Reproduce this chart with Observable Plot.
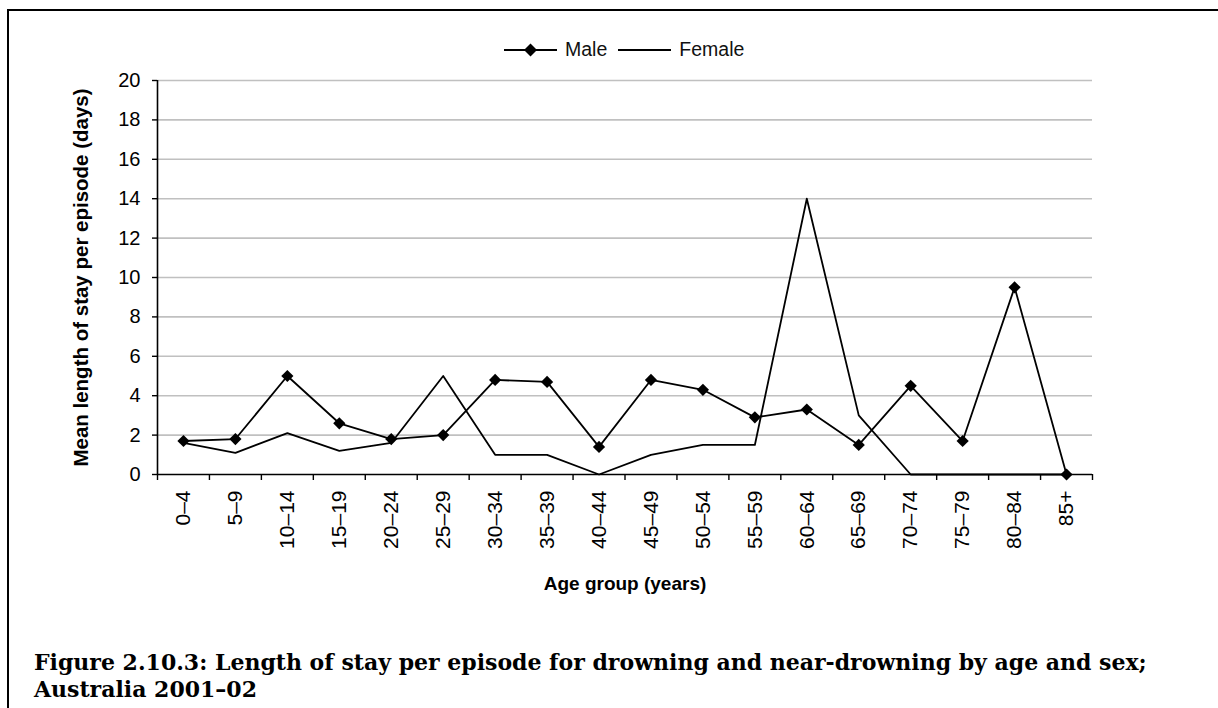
<!DOCTYPE html>
<html>
<head>
<meta charset="utf-8">
<script src="https://cdn.jsdelivr.net/npm/d3@7"></script>
<script src="https://cdn.jsdelivr.net/npm/@observablehq/plot@0.6"></script>
<style>
  html, body { margin: 0; padding: 0; background: #fff; }
  #page { position: relative; width: 1218px; height: 708px; overflow: hidden; font-family: "Liberation Sans", Arial, sans-serif; }
  #frame { position: absolute; left: 7px; top: 9px; width: 1400px; height: 900px; border-top: 2px solid #000; border-left: 2px solid #000; }
  #legend { position: absolute; top: 38px; left: 504px; display: flex; align-items: center; font-size: 19.5px; color: #111; }
  #legend .item { display: flex; align-items: center; margin-right: 11px; }
  #legend svg { margin-right: 8px; }
  #chart { position: absolute; left: 0; top: 0; }
  #caption { position: absolute; left: 34px; top: 649px; font-family: "DejaVu Serif", "Liberation Serif", serif; font-weight: bold; font-size: 22px; line-height: 27px; color: #000; white-space: nowrap; }
</style>
</head>
<body>
<div id="page">
  <div id="frame"></div>
  <div id="legend"></div>
  <div id="chart"></div>
  <div id="caption">Figure 2.10.3: Length of stay per episode for drowning and near-drowning by age and sex;<br>Australia 2001–02</div>
</div>
<script>
// Data
const ageGroups = ["0–4","5–9","10–14","15–19","20–24","25–29","30–34","35–39","40–44","45–49","50–54","55–59","60–64","65–69","70–74","75–79","80–84","85+"];
const maleValues   = [1.7, 1.8, 5.0, 2.6, 1.8, 2.0, 4.8, 4.7, 1.4, 4.8, 4.3, 2.9, 3.3, 1.5, 4.5, 1.7, 9.5, 0];
const femaleValues = [1.6, 1.1, 2.1, 1.2, 1.6, 5.0, 1.0, 1.0, 0, 1.0, 1.5, 1.5, 14.0, 3.0, 0, 0, 0, 0];
const yTicks = [0, 2, 4, 6, 8, 10, 12, 14, 16, 18, 20];
const seriesNames = ["Male", "Female"];
const yTitle = "Mean length of stay per episode (days)";
const xTitle = "Age group (years)";

const idx = ageGroups.map((_, i) => i);
const boundaries = ageGroups.map((_, i) => i - 0.5).concat([ageGroups.length - 0.5]);
const male = ageGroups.map((g, i) => ({i, age: g, value: maleValues[i]}));
const female = ageGroups.map((g, i) => ({i, age: g, value: femaleValues[i]}));
const xMin = -0.5, xMax = ageGroups.length - 0.5;

const chart = Plot.plot({
  width: 1218,
  height: 620,
  marginTop: 80,
  marginBottom: 146,
  marginLeft: 157,
  marginRight: 126,
  style: {fontFamily: "'Liberation Sans', Arial, sans-serif", color: "#000", background: "transparent"},
  x: {type: "linear", domain: [xMin, xMax]},
  y: {type: "linear", domain: [0, 20]},
  marks: [
    Plot.ruleY(yTicks.filter(d => d > 0), {x1: xMin, x2: xMax, stroke: "#c0c0c0", strokeWidth: 1.6}),
    Plot.axisY(yTicks, {tickSize: 5, tickPadding: 12, fontSize: 20, label: null, stroke: "#000", strokeWidth: 1.4}),
    Plot.axisY([], {label: yTitle, labelAnchor: "center", labelOffset: 84, labelArrow: "none", fontSize: 20.5, fontWeight: "bold"}),
    Plot.axisX(boundaries, {tickSize: 6, tickFormat: () => "", label: null, strokeWidth: 1.4}),
    Plot.axisX(idx, {tickSize: 0, tickPadding: 16, tickRotate: -90, tickFormat: i => ageGroups[i], fontSize: 21, label: null}),
    Plot.axisX([], {label: xTitle, labelAnchor: "center", labelOffset: 115, labelArrow: "none", fontSize: 19, fontWeight: "bold"}),
    Plot.ruleX([xMin], {y1: 0, y2: 20, stroke: "#000", strokeWidth: 1.6}),
    Plot.ruleY([0], {x1: xMin, x2: xMax, stroke: "#000", strokeWidth: 1.6}),
    Plot.line(female, {x: "i", y: "value", stroke: "#000", strokeWidth: 1.8}),
    Plot.line(male, {x: "i", y: "value", stroke: "#000", strokeWidth: 1.8}),
    Plot.dot(male, {x: "i", y: "value", symbol: "diamond2", r: 5.5, fill: "#000", stroke: "none"})
  ]
});
document.getElementById("chart").appendChild(chart);

// Legend
const legend = document.getElementById("legend");
seriesNames.forEach(name => {
  const item = document.createElement("div");
  item.className = "item";
  const ns = "http://www.w3.org/2000/svg";
  const svg = document.createElementNS(ns, "svg");
  svg.setAttribute("width", 53); svg.setAttribute("height", 16);
  const line = document.createElementNS(ns, "line");
  line.setAttribute("x1", 0); line.setAttribute("x2", 53); line.setAttribute("y1", 8); line.setAttribute("y2", 8);
  line.setAttribute("stroke", "#000"); line.setAttribute("stroke-width", 1.8);
  svg.appendChild(line);
  if (name === "Male") {
    const p = document.createElementNS(ns, "path");
    p.setAttribute("d", "M26.5,1.5 L33,8 L26.5,14.5 L20,8 Z");
    p.setAttribute("fill", "#000");
    svg.appendChild(p);
  }
  item.appendChild(svg);
  const t = document.createElement("span");
  t.textContent = name;
  item.appendChild(t);
  legend.appendChild(item);
});
</script>
</body>
</html>
